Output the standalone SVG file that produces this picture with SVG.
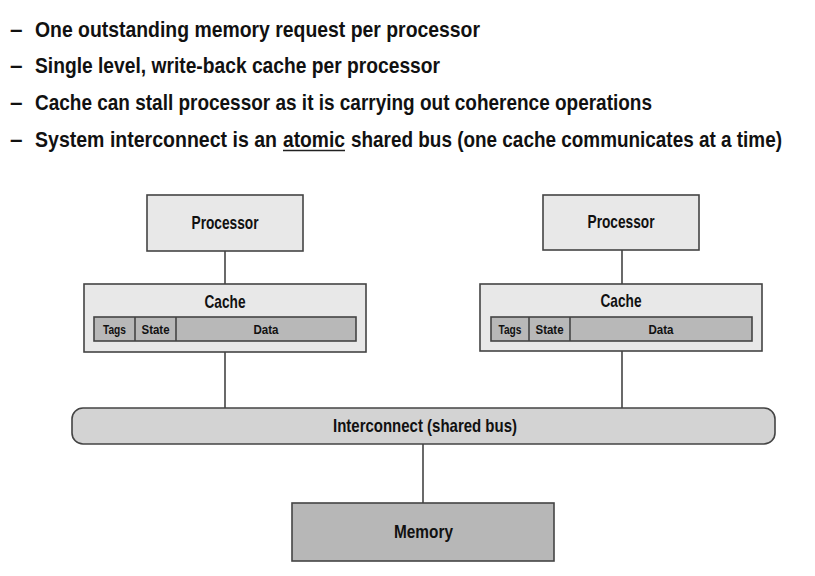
<svg xmlns="http://www.w3.org/2000/svg" width="815" height="576" viewBox="0 0 815 576">
<style>
text{font-family:"Liberation Sans",Arial,sans-serif;font-weight:bold;fill:#111}
.h{font-size:22.5px}
.box{stroke:#444;stroke-width:1.6}
.lt{fill:#e8e8e8}
.dk{fill:#b8b8b8}
.lbl{font-size:18.5px;text-anchor:middle}
.sm{font-size:13px;text-anchor:middle}
.conn line{stroke:#444;stroke-width:1.6}
</style>
<rect width="815" height="576" fill="#fff"/>
<g id="bullets">
<text class="h" x="10" y="37">–</text>
<text class="h" transform="translate(35,37) scale(0.82,1)" textLength="542.7" lengthAdjust="spacingAndGlyphs">One outstanding memory request per processor</text>
<text class="h" x="10" y="73">–</text>
<text class="h" transform="translate(35,73) scale(0.82,1)" textLength="493.9" lengthAdjust="spacingAndGlyphs">Single level, write-back cache per processor</text>
<text class="h" x="10" y="110">–</text>
<text class="h" transform="translate(35,110) scale(0.82,1)" textLength="752.4" lengthAdjust="spacingAndGlyphs">Cache can stall processor as it is carrying out coherence operations</text>
<text class="h" x="10" y="147">–</text>
<text class="h" transform="translate(35,147) scale(0.82,1)" textLength="295.1" lengthAdjust="spacingAndGlyphs">System interconnect is an</text>
<text class="h" transform="translate(283,147) scale(0.82,1)" textLength="75.6" lengthAdjust="spacingAndGlyphs">atomic</text>
<line x1="283" y1="150.5" x2="345" y2="150.5" stroke="#222" stroke-width="1.6"/>
<text class="h" transform="translate(351,147) scale(0.82,1)" textLength="525.6" lengthAdjust="spacingAndGlyphs">shared bus (one cache communicates at a time)</text>
</g>
<g class="conn" id="connectors">
<line x1="225" y1="251" x2="225" y2="284"/>
<line x1="225" y1="352" x2="225" y2="408"/>
<line x1="622" y1="250" x2="622" y2="284"/>
<line x1="622" y1="351" x2="622" y2="408"/>
<line x1="423" y1="444" x2="423" y2="503"/>
</g>
<g id="proc1">
<rect class="box lt" x="147" y="195" width="156" height="56"/>
<text class="lbl" x="225" y="229" textLength="67" lengthAdjust="spacingAndGlyphs">Processor</text>
</g>
<g id="cache1">
<rect class="box lt" x="84" y="284" width="282" height="68"/>
<text class="lbl" x="225" y="308" textLength="41" lengthAdjust="spacingAndGlyphs">Cache</text>
<rect class="box dk" x="94" y="317" width="262" height="24"/>
<line class="box" x1="135" y1="317" x2="135" y2="341"/>
<line class="box" x1="176" y1="317" x2="176" y2="341"/>
<text class="sm" x="114.5" y="334" textLength="23" lengthAdjust="spacingAndGlyphs">Tags</text>
<text class="sm" x="155.5" y="334" textLength="28" lengthAdjust="spacingAndGlyphs">State</text>
<text class="sm" x="266" y="334" textLength="25" lengthAdjust="spacingAndGlyphs">Data</text>
</g>
<g id="proc2">
<rect class="box lt" x="543" y="195" width="156" height="55"/>
<text class="lbl" x="621" y="228" textLength="67" lengthAdjust="spacingAndGlyphs">Processor</text>
</g>
<g id="cache2">
<rect class="box lt" x="480" y="284" width="282" height="67"/>
<text class="lbl" x="621" y="307" textLength="41" lengthAdjust="spacingAndGlyphs">Cache</text>
<rect class="box dk" x="491" y="317" width="261" height="24"/>
<line class="box" x1="529" y1="317" x2="529" y2="341"/>
<line class="box" x1="570" y1="317" x2="570" y2="341"/>
<text class="sm" x="510" y="334" textLength="23" lengthAdjust="spacingAndGlyphs">Tags</text>
<text class="sm" x="549.5" y="334" textLength="28" lengthAdjust="spacingAndGlyphs">State</text>
<text class="sm" x="661" y="334" textLength="25" lengthAdjust="spacingAndGlyphs">Data</text>
</g>
<g id="bus">
<rect class="box" fill="#d3d3d3" x="72" y="408" width="703" height="36" rx="11"/>
<text class="lbl" x="425" y="432" textLength="184" lengthAdjust="spacingAndGlyphs">Interconnect (shared bus)</text>
</g>
<g id="memory">
<rect class="box" fill="#b7b7b7" x="292" y="503" width="262" height="58"/>
<text class="lbl" x="423.5" y="538" textLength="59" lengthAdjust="spacingAndGlyphs">Memory</text>
</g>
</svg>
